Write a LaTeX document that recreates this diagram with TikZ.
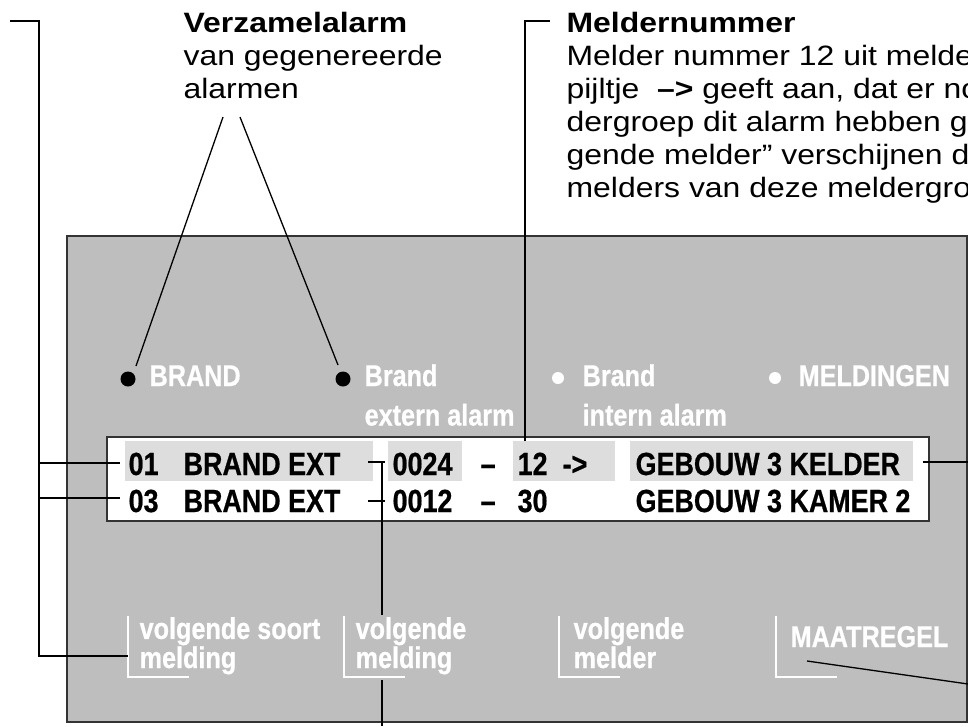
\documentclass[tikz,border=0pt]{standalone}
\usepackage{fontspec}
\setmainfont{Liberation Sans}
\newfontfamily\notefont[FakeStretch=1.14]{Liberation Sans}
\newfontfamily\dispfont[FakeStretch=0.84, FakeBold=0.6]{Liberation Sans}
\usepackage{tikz}
\usetikzlibrary{calc, positioning}

\definecolor{panelgray}{RGB}{190,190,190}
\definecolor{hilitegray}{RGB}{221,221,221}
\definecolor{rimgray}{RGB}{51,51,51}

\begin{document}
\begin{tikzpicture}[x=1pt, y=-1pt, line width=1.3pt]
    % Define styles locally (multi-line nodes sit on their last baseline)
    \tikzstyle{note} = [inner sep=0, anchor=base west, align=left, font={\notefont\fontsize{28}{33}\selectfont}]
    \tikzstyle{disp} = [inner sep=0, anchor=base west, font={\dispfont\bfseries\fontsize{32}{36}\selectfont}]
    \tikzstyle{lamp} = [inner sep=0, anchor=base west, align=left, text=white, font={\dispfont\bfseries\fontsize{30}{39.5}\selectfont}]
    \tikzstyle{keytext} = [inner sep=0, anchor=base west, align=left, text=white, font={\dispfont\bfseries\fontsize{30}{25}\selectfont}]
    \tikzstyle{keyline} = [white, line width=2pt]
    \tikzstyle{hilite} = [fill=hilitegray]
    \tikzstyle{rim} = [draw=rimgray, line width=1.5pt]

    \clip (0,0) rectangle (968,726);

    % Panel and display
    \draw[rim, fill=panelgray] (67,236) rectangle (967,722);
    \draw[rim, fill=white] (107,437) rectangle (929,521);
    \fill[hilite] (125,441) rectangle (373,481);
    \fill[hilite] (388,441) rectangle (462,481);
    \fill[hilite] (513,441) rectangle (615,481);
    \fill[hilite] (630,441) rectangle (913,481);

    % Annotations
    \node[note] (verz) at (183,98) {\textbf{Verzamelalarm}\\van gegenereerde\\alarmen};
    \node[note] (mnr) at (566,197) {\textbf{Meldernummer}\\Melder nummer 12 uit meldergroep\\pijltje~~\textbf{–>} geeft aan, dat er nog\\dergroep dit alarm hebben gegenereerd\\gende melder” verschijnen de\\melders van deze meldergroep};

    % Lamps
    \node[circle, fill=black, minimum size=15pt, inner sep=0] (dotA) at (128,379) {};
    \node[circle, fill=black, minimum size=15pt, inner sep=0] (dotB) at (343,379) {};
    \node[circle, fill=white, minimum size=12pt, inner sep=0] (dotC) at (558,378) {};
    \node[circle, fill=white, minimum size=12pt, inner sep=0] (dotD) at (775,378) {};
    \node[lamp] (lampA) at (149,386) {BRAND};
    \node[lamp] (lampB) at (364,425.5) {Brand\\extern alarm};
    \node[lamp] (lampC) at (582,425.5) {Brand\\intern alarm};
    \node[lamp] (lampD) at (798,386) {MELDINGEN};

    % Display rows
    \node[disp] (nrA) at (128,475) {01};
    \node[disp] (nrB) at (128,512) {03};
    \node[disp] (kindA) at (183,475) {BRAND EXT};
    \node[disp] (kindB) at (183,512) {BRAND EXT};
    \node[disp] (grpA) at (392,475) {0024};
    \node[disp] (grpB) at (392,512) {0012};
    \node[disp] (dashA) at (480,475) {–};
    \node[disp] (dashB) at (480,512) {–};
    \node[disp] (detA) at (517,475) {12};
    \node[disp] (detB) at (517,512) {30};
    \node[disp] (arrA) at (562,475) {->};
    \node[disp] (locA) at (635,475) {GEBOUW 3 KELDER};
    \node[disp] (locB) at (635,512) {GEBOUW 3 KAMER 2};

    % Keys
    \node[keytext] (keyA) at (139,668) {volgende soort\\melding};
    \node[keytext] (keyB) at (355,668) {volgende\\melding};
    \node[keytext] (keyC) at (573,668) {volgende\\melder};
    \node[keytext] (keyD) at (790,647) {MAATREGEL};
    \coordinate (cornA) at (128,677);
    \coordinate (cornB) at (344,677);
    \coordinate (cornC) at (559,677);
    \coordinate (cornD) at (776,677);
    \foreach \c in {cornA, cornB, cornC, cornD}
        \draw[keyline] ($(\c)+(0,-61)$) -- (\c) -- ++(61,0);

    % Leaders
    \coordinate (topL) at (10,21);
    \coordinate (bendL) at (39,21);
    \coordinate (footL) at (39,656);
    \draw (topL) -- (bendL) -- (footL) -- (cornA |- footL);
    \draw (39,463) -- (120,463);
    \draw (39,498) -- (120,498);

    \coordinate (verzL) at (223,117);
    \coordinate (verzR) at (240,117);
    \draw (verzL) -- (136,366);
    \draw (verzR) -- (338,365);

    \coordinate (mnrT) at (550,21);
    \draw (mnrT) -- (525,21) -- (525,441);

    \draw (368,462) -- (385,462);
    \draw (368,501) -- (385,501);
    \draw (382,462) -- (382,615);
    \draw (382,680) -- (382,726);

    \draw (923,462) -- (968,462);
    \draw (807,661) -- (975,685);
\end{tikzpicture}
\end{document}
